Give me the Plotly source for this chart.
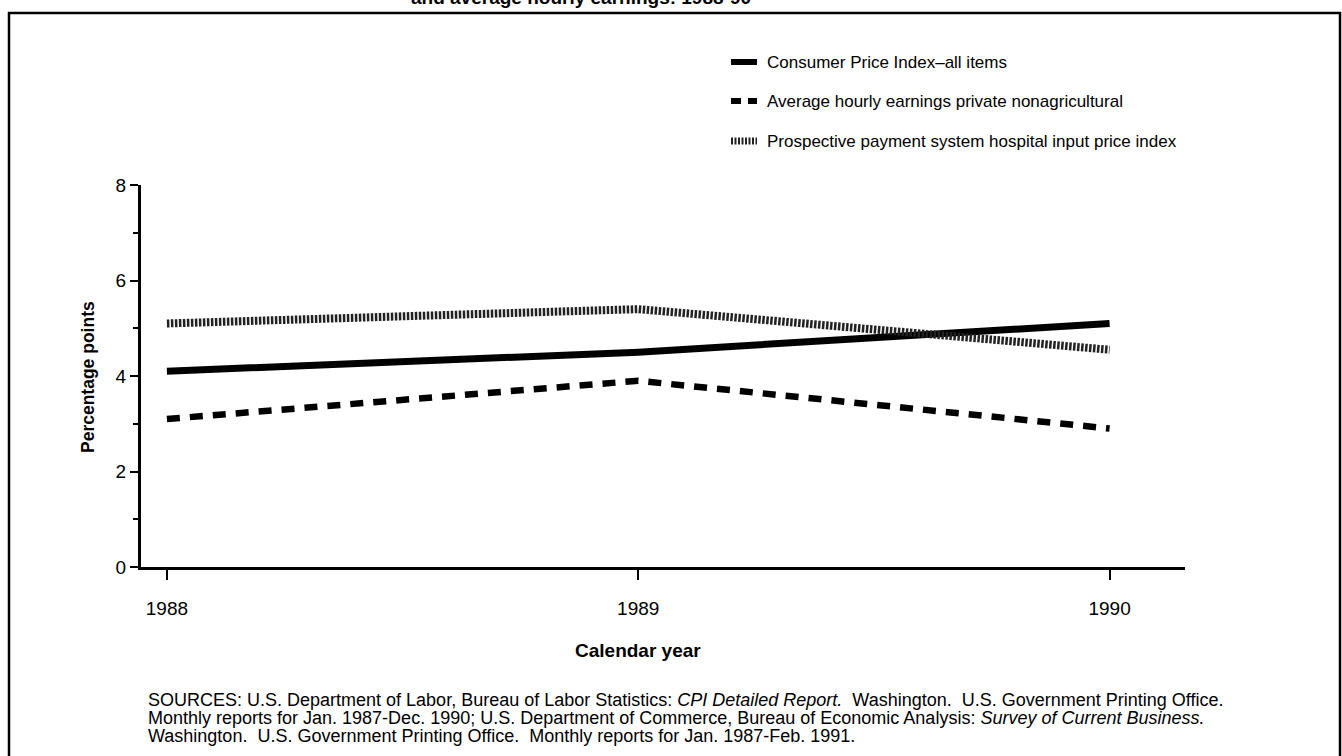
import plotly.graph_objects as go

# Percentage change figures
years = [1988, 1989, 1990]
cpi_all_items = [4.1, 4.5, 5.1]
hourly_earnings = [3.1, 3.9, 2.9]
pps_input_price = [5.1, 5.4, 4.55]

series_names = [
    'Consumer Price Index\u2013all items',
    'Average hourly earnings private nonagricultural',
    'Prospective payment system hospital input price index',
]
y_ticks = [0, 2, 4, 6, 8]
x_ticks = [1988, 1989, 1990]

source_lines = [
    'SOURCES: U.S. Department of Labor, Bureau of Labor Statistics: <i>CPI Detailed Report.</i>  '
    'Washington.  U.S. Government Printing Office.',
    'Monthly reports for Jan. 1987-Dec. 1990; U.S. Department of Commerce, Bureau of Economic Analysis: '
    '<i>Survey of Current Business.</i>',
    'Washington.  U.S. Government Printing Office.  Monthly reports for Jan. 1987-Feb. 1991.',
]

W, H = 1342, 756
L, R, T, B = 141, 1185, 185, 567   # plot area in pixels


def px(x):
    """pixel x -> paper x"""
    return (x - L) / (R - L)


def py(y):
    """pixel y -> paper y"""
    return (B - y) / (B - T)


FONT = 'Liberation Sans, Arial, sans-serif'
styles = [
    dict(color='black', width=7, dash='solid'),
    dict(color='black', width=6.5, dash='13px,10px'),
    dict(color='#222', width=8, dash='2.5px,1.5px'),
]

fig = go.Figure()
for name, vals, st in zip(series_names, [cpi_all_items, hourly_earnings, pps_input_price], styles):
    fig.add_trace(go.Scatter(x=years, y=vals, mode='lines', name=name,
                             line=st, showlegend=False))

shapes = []
annotations = []


def text(s, x, y, size, anchor='center', angle=0):
    annotations.append(dict(text=s, xref='paper', yref='paper', x=px(x), y=py(y),
                            xanchor=anchor, yanchor='middle', showarrow=False,
                            textangle=angle, font=dict(size=size, color='black', family=FONT)))


# legend drawn by hand to keep the wide row spacing
legend_rows = [62, 101, 141]
sample_styles = [
    dict(color='black', width=6, dash='solid'),
    dict(color='black', width=6, dash='10px,7px'),
    dict(color='#222', width=7, dash='2px,1.5px'),
]
for name, row, st in zip(series_names, legend_rows, sample_styles):
    shapes.append(dict(type='line', xref='paper', yref='paper',
                       x0=px(731), x1=px(757), y0=py(row), y1=py(row), line=st))
    text(name, 765, row, 17, anchor='left')

# outer frame (top, left, right)
shapes.append(dict(type='path', xref='paper', yref='paper',
                   path='M {} {} L {} {} L {} {} L {} {}'.format(
                       px(9), py(760), px(9), py(13), px(1340), py(13), px(1340), py(760)),
                   line=dict(color='black', width=2.5)))

# title, clipped by the top edge as in the scan
text('<b>and average hourly earnings: 1988-90</b>', 581, -2, 19)

text('<b>Calendar year</b>', 638, 650, 19)
text('<b>Percentage points</b>', 88, 377, 17.5, angle=-90)

for i, line in enumerate(source_lines):
    text(line, 146, 700 + 18 * i, 18, anchor='left')

fig.update_layout(
    width=W, height=H,
    margin=dict(l=L, r=W - R, t=T, b=H - B, pad=0),
    paper_bgcolor='white', plot_bgcolor='white',
    font=dict(family=FONT, size=19, color='black'),
    shapes=shapes, annotations=annotations,
    xaxis=dict(range=[1987.945, 1990.16], tickvals=x_ticks, ticktext=[str(v) for v in x_ticks],
               ticks='outside', ticklen=10, tickwidth=1.5, tickcolor='black', ticklabelstandoff=12,
               showline=True, linecolor='black', linewidth=3, showgrid=False, zeroline=False,
               tickfont=dict(size=19)),
    yaxis=dict(range=[0, 8], tickvals=y_ticks, ticks='outside', ticklen=8, tickwidth=2,
               tickcolor='black', showline=True, linecolor='black', linewidth=3,
               showgrid=False, zeroline=False, tickfont=dict(size=19),
               minor=dict(dtick=1, ticks='outside', ticklen=5, tickwidth=1.5, tickcolor='black')),
)

fig.write_html('out.html', config={'displayModeBar': False},
               post_script="document.body.style.margin='0';")
